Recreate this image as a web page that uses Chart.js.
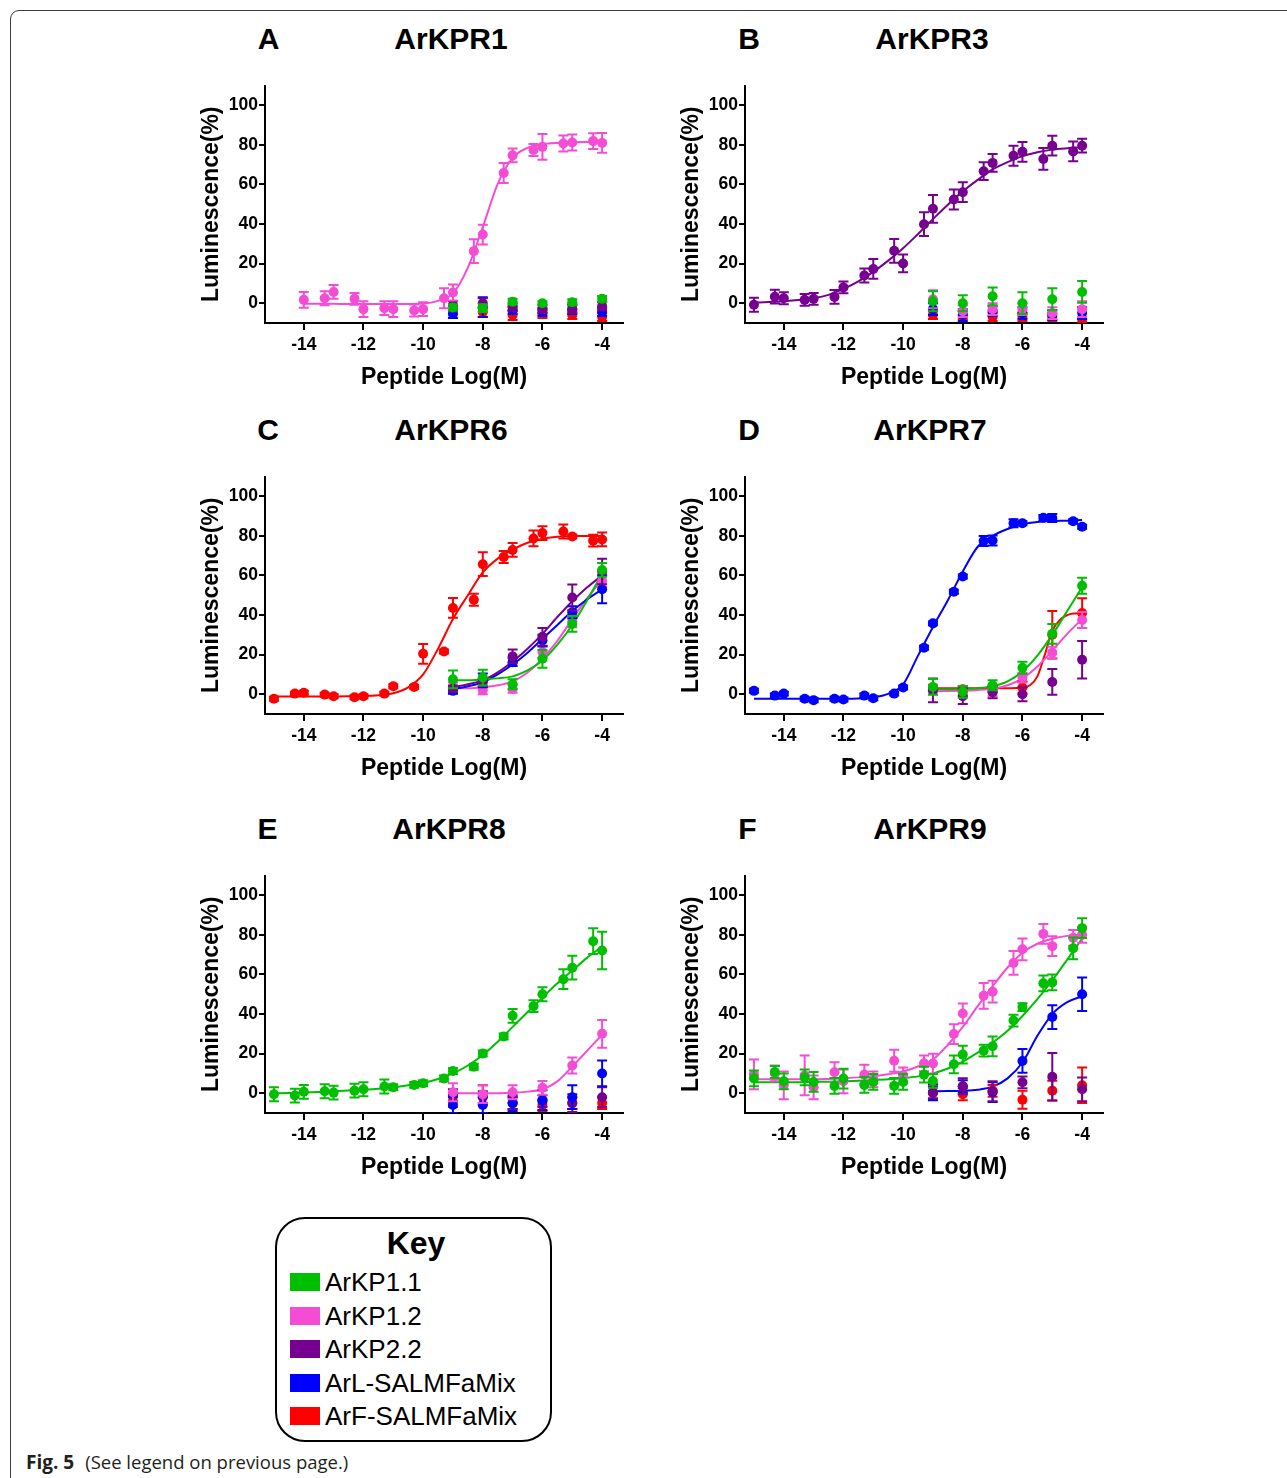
<!DOCTYPE html>
<html>
<head>
<meta charset="utf-8">
<title>Fig. 5</title>
<script src="https://cdn.jsdelivr.net/npm/chart.js@4.4.0/dist/chart.umd.min.js"></script>
<style>
  body { margin: 0; background: #fff; }
  #page { position: relative; width: 1287px; height: 1478px; overflow: hidden; font-family: 'Liberation Sans', Arial, sans-serif; color: #000; }
  .frame { position: absolute; left: 10px; top: 10px; width: 1320px; height: 1475px; border: 1px solid #3c3c3c; border-radius: 9px; }
  .panel { position: absolute; width: 460px; height: 320px; }
  .lbl { position: absolute; font-weight: bold; font-size: 30px; line-height: 1; transform: translate(-50%, -50%); white-space: nowrap; }
  .key { position: absolute; left: 275px; top: 1217px; width: 273px; height: 221px; border: 2.5px solid #000; border-radius: 30px; }
  .keyTitle { position: absolute; left: 416px; top: 1243px; font-weight: bold; font-size: 32px; line-height: 1; transform: translate(-50%, -50%); }
  .keyRow { position: absolute; left: 290px; height: 26px; transform: translateY(-50%); display: flex; align-items: center; }
  .keyRow span.sw { display: inline-block; width: 30px; height: 18px; margin-right: 5px; }
  .keyRow span.tx { font-size: 26px; line-height: 1; }
  .caption { position: absolute; left: 26px; top: 1462px; transform: translateY(-50%); font-family: 'Open Sans', 'Noto Sans', sans-serif; font-size: 18.5px; line-height: 1; color: #231f20; white-space: nowrap; }
  .caption b { font-size: 19px; margin-right: 11px; }
</style>
</head>
<body>
<div id="page">
  <div class="frame"></div>
</div>
<script>
// doses (log M)
const fullDose = [-15, -14.3, -14, -13.3, -13, -12.3, -12, -11.3, -11, -10.3, -10, -9.3, -9, -8.3, -8, -7.3, -7, -6.3, -6, -5.3, -5, -4.3, -4];
const doseA = [-14, -13.3, -13, -12.3, -12, -11.3, -11, -10.3, -10, -9.3, -9, -8.3, -8, -7.3, -7, -6.3, -6, -5.3, -5, -4.3, -4];
const shortDose = [-9, -8, -7, -6, -5, -4];

// x positions of the fitted curves
const fitLong = [-15, -14.5, -14, -13.5, -13, -12.5, -12, -11.5, -11, -10.5, -10, -9.5, -9, -8.5, -8, -7.5, -7, -6.5, -6, -5.5, -5, -4.5, -4];
const fitA = [-14, -13.5, -13, -12.5, -12, -11.5, -11, -10.5, -10, -9.5, -9, -8.5, -8, -7.5, -7, -6.5, -6, -5.5, -5, -4.5, -4];
const fitShort = [-9, -8.5, -8, -7.5, -7, -6.5, -6, -5.5, -5, -4.5, -4];
const fitRedD = [-9, -8, -7, -6, -5.75, -5.5, -5.25, -5, -4.75, -4.5, -4.25, -4];

const xTicks = [-14, -12, -10, -8, -6, -4];
const yTicks = [0, 20, 40, 60, 80, 100];

const keyLabels = ['ArKP1.1', 'ArKP1.2', 'ArKP2.2', 'ArL-SALMFaMix', 'ArF-SALMFaMix'];
const colors = { KP11: '#00BF00', KP12: '#F54CD6', KP22: '#76008F', L: '#0000FF', F: '#FF0000' };

// A - ArKPR1
const a_KP12 = [1.7, 2.5, 5.7, 2.2, -3, -2.5, -3, -3.7, -3, 2.5, 5.4, 26.3, 34.7, 65.8, 74.7, 77.4, 79, 80.7, 81.2, 81.9, 81];
const a_KP12_err = [4, 3.5, 3.5, 3, 4, 3.5, 4, 3, 3.5, 5, 4, 6, 5, 5, 3.5, 3, 6.5, 4, 4, 4, 5];
const a_KP12_fit = [-0.3, -0.3, -0.3, -0.4, -0.4, -0.4, -0.4, -0.4, -0.2, 1.2, 5, 18, 38.5, 60.3, 73.4, 78.5, 80.3, 81, 81.3, 81.4, 81.4];
const a_KP11 = [-2.2, -2.5, 0.8, 0, 0.5, 2.2];
const a_KP11_err = [1.5, 2, 1.5, 1, 1.5, 1.5];
const a_KP22 = [-1, 0, -2, -3, -3, -1.5];
const a_KP22_err = [2, 2.5, 2, 2, 2, 2];
const a_L = [-5.5, -2, -3.5, -4.5, -3, -4.5];
const a_L_err = [2, 5, 2, 2, 2.5, 2];
const a_F = [-3.5, -4.5, -6, -5.5, -6, -7];
const a_F_err = [2, 2.5, 2.5, 2, 2, 2];

// B - ArKPR3
const b_KP22 = [-0.8, 3.3, 2.5, 1.7, 2.2, 3.2, 8, 14, 17.3, 26.5, 20.1, 39.9, 47.7, 52.4, 56.1, 66.7, 70.9, 74.5, 76.5, 72.9, 79.6, 76.7, 79.6];
const b_KP22_err = [3.5, 3.5, 3, 3, 3, 3.5, 3, 3.5, 5, 6, 4.5, 6, 7, 5, 5, 4.5, 4.5, 5, 5, 5.5, 5, 5, 3.5];
const b_KP22_fit = [0.3, 0.6, 1.0, 1.6, 2.5, 4.2, 7.2, 11, 15.8, 21.5, 27.8, 35, 42.5, 49.8, 56.5, 62.3, 67.6, 71.3, 74.3, 76.3, 77.6, 78.3, 78.8];
const b_KP11 = [1, 0, 3.5, 0, 2, 5.7];
const b_KP11_err = [5, 4, 4.5, 5.5, 5.5, 5.5];
const b_KP12 = [2, -4, -3, -3, -5, -3];
const b_KP12_err = [4.5, 3, 3, 3, 3, 4];
const b_L = [-3, -6, -4, -5, -6, -5];
const b_L_err = [3, 3, 2.5, 3, 2.5, 3];
const b_F = [-6, -6, -7, -7, -7, -9.5];
const b_F_err = [2, 2, 2, 2, 2, 1.5];

// C - ArKPR6
const c_F = [-2.3, 0.3, 0.7, -0.2, -1, -1.5, -1, 0.3, 4, 3.7, 20.4, 21.6, 43.6, 47.7, 65.7, 69.3, 72.9, 78.7, 81.4, 82.2, 79.7, 77.6, 78.2];
const c_F_err = [1, 1, 1, 1, 1, 1, 1, 1, 1, 1, 5, 1, 5, 3, 6, 3, 3.5, 4, 3.5, 3.5, 1, 3, 3.5];
const c_F_fit = [-1.2, -1.2, -1.2, -1.2, -1.1, -1.0, -0.9, -0.5, 0.5, 3.5, 10, 23, 38, 50, 61.5, 68.5, 73, 76.5, 78.5, 79.5, 80, 80, 80];
const c_KP22 = [2.8, 6, 19.1, 29, 48.9, 62];
const c_KP22_err = [1.5, 2, 3.5, 4.5, 6.5, 6.5];
const c_KP22_fit = [3.5, 5, 7, 11, 16.5, 23, 30.5, 39, 47, 54, 60];
const c_L = [1.7, 7, 16.2, 27.1, 41.4, 53];
const c_L_err = [1.5, 3.5, 2, 3, 3, 7];
const c_L_fit = [2.5, 4, 6, 10, 15, 21, 28, 35, 42, 48, 53];
const c_KP12 = [4, 2, 2.8, 21.3, 36.8, 57.3];
const c_KP12_err = [2, 2, 2, 3, 3, 3];
const c_KP12_fit = [3, 3, 3.5, 4.5, 6.5, 11, 18, 27, 38, 48.5, 58];
const c_KP11 = [7.5, 8.4, 5, 17.9, 35.5, 62.8];
const c_KP11_err = [4.5, 4, 2.5, 4.5, 4, 3.5];
const c_KP11_fit = [7, 7, 7.5, 8, 9, 12, 17, 25, 35, 47.5, 61];

// D - ArKPR7
const d_L = [1.7, -0.7, 0.3, -2.3, -3, -2.3, -2.7, -0.7, -2, 0.3, 3.4, 23.5, 35.8, 51.8, 59.5, 77.4, 77.7, 86.4, 86.4, 89.1, 89, 87.4, 84.6];
const d_L_err = [1, 1, 1, 1, 1, 1, 1, 1, 1, 1, 1, 1, 1, 1, 1, 2.5, 2.5, 2, 1, 1.5, 2, 1, 1];
const d_L_fit = [-2.3, -2.3, -2.3, -2.3, -2.3, -2.3, -2.3, -2.2, -1.5, 0.2, 5, 19.5, 34, 47.5, 62, 74.5, 80, 83.5, 85.8, 87, 87.5, 87.7, 88];
const d_KP11 = [3.7, 1.2, 4.5, 13.4, 30.5, 54.8];
const d_KP11_err = [4, 3, 2.5, 3, 5, 4];
const d_KP11_fit = [2.5, 2.5, 2.6, 3, 4, 6.5, 11.5, 19.5, 30, 42, 54];
const d_KP12 = [2, 1.5, 1, 8.4, 21, 37.5];
const d_KP12_err = [2, 2, 2, 2.5, 3, 4];
const d_KP12_fit = [1.5, 1.6, 1.8, 2.1, 2.7, 4.5, 8, 14, 22, 30.5, 38];
const d_F = [3, 2.5, 3, 3.4, 30, 41];
const d_F_err = [1.5, 1.5, 1.5, 3, 12, 7.5];
const d_F_fit = [3, 3, 3, 3.3, 4.5, 9, 20, 32, 37.5, 40, 40.8, 41];
const d_KP22 = [2, -1, 1, 0, 6.2, 17.4];
const d_KP22_err = [6, 4, 3, 3.5, 6.5, 9.5];

// E - ArKPR8
const e_KP11 = [-0.5, -1.2, 0.7, 1, 0.3, 1.3, 2, 3.4, 3, 4.2, 5, 7.4, 11.2, 13.4, 20.1, 28.7, 39.1, 44, 50, 57.6, 63.4, 76.8, 72.1];
const e_KP11_err = [3.5, 3.5, 3.5, 3.5, 3.5, 3.5, 3.5, 3.5, 1.5, 1.5, 1.5, 1.5, 1.5, 1.5, 1.5, 1.5, 3.5, 3, 3.5, 5, 6, 6.5, 9.5];
const e_KP11_fit = [0, 0.1, 0.3, 0.6, 1, 1.4, 1.8, 2.3, 3, 4, 5.2, 7.2, 10, 14, 19.3, 26, 33.5, 41, 48.3, 55.5, 62, 68.5, 74];
const e_KP12 = [0.5, -0.5, 0.5, 2.7, 14, 30];
const e_KP12_err = [4.5, 4.5, 3.5, 3.5, 4, 7];
const e_KP12_fit = [0, 0, 0, 0, 0.3, 0.8, 2, 6, 13.5, 21.5, 29.5];
const e_L = [-6, -6, -5, -3.5, -2, 10];
const e_L_err = [4, 4, 4, 5, 6, 6.5];
const e_KP22 = [-1, -2, -5, -4, -5, -2];
const e_KP22_err = [3, 3, 3, 3, 4.5, 5];
const e_F = [-4, -1, -5, -6, -5, -5];
const e_F_err = [3, 5, 3, 3, 3, 3];

// F - ArKPR9
const f_KP12 = [9.5, 10, 4, 9, 3, 10.6, 6, 9.4, 7, 16.4, 9, 15.1, 15, 29.9, 40.3, 49.2, 51.3, 65.8, 72.7, 80.5, 74.3, 78.5, 80];
const f_KP12_err = [7.5, 4, 7, 10, 6, 5, 6, 5, 4, 5.5, 4, 4, 5, 5, 5, 6.5, 5.5, 6, 5.5, 5, 5, 4, 4];
const f_KP12_fit = [7, 7, 7, 7, 7, 7.2, 7.5, 8, 8.6, 9.6, 11, 13.5, 17, 24.5, 33.5, 44, 54, 63.5, 71, 75.5, 78, 79.5, 80.2];
const f_KP11 = [7.5, 10.7, 6, 8, 5.7, 3.7, 7.4, 4.2, 5.7, 3.7, 5.7, 9.4, 6.2, 14.6, 19.5, 21.5, 23.7, 36.7, 43.5, 55.5, 56, 73.2, 83.4];
const f_KP11_err = [4, 3, 4, 4, 5, 4, 5, 4, 4, 4, 4, 4, 3.5, 4.5, 4.5, 3, 5, 3, 2, 4, 4, 5.5, 5];
const f_KP11_fit = [5.5, 5.5, 5.6, 5.6, 5.7, 5.8, 6, 6.3, 6.6, 7, 7.6, 8.5, 10, 12.5, 16, 20.5, 25.5, 31.5, 39, 47.5, 57, 67.5, 78];
const f_L = [0.5, 3.5, 0.5, 16.3, 38.5, 50];
const f_L_err = [4, 3, 5, 6, 6, 8.5];
const f_L_fit = [1, 1.1, 1.3, 1.8, 3.3, 7.5, 15.5, 29, 40, 46, 49];
const f_KP22 = [0.5, 3.5, 1, 5.5, 8.3, 2];
const f_KP22_err = [3, 4, 5, 3, 12, 6];
const f_F = [0, -0.5, 1.2, -3.3, 1.3, 4];
const f_F_err = [3, 3, 3, 4.5, 5, 9];

const panels = [
  { letter: 'A', name: 'ArKPR1', left: 180, top: 74, lx: 268.5, nx: 451, ty: 39,
    series: [
      { c: 'KP12', x: doseA, y: a_KP12, e: a_KP12_err, fx: fitA, fy: a_KP12_fit },
      { c: 'KP11', x: shortDose, y: a_KP11, e: a_KP11_err },
      { c: 'KP22', x: shortDose, y: a_KP22, e: a_KP22_err },
      { c: 'L', x: shortDose, y: a_L, e: a_L_err },
      { c: 'F', x: shortDose, y: a_F, e: a_F_err }
    ] },
  { letter: 'B', name: 'ArKPR3', left: 660, top: 74, lx: 749, nx: 932, ty: 39,
    series: [
      { c: 'KP22', x: fullDose, y: b_KP22, e: b_KP22_err, fx: fitLong, fy: b_KP22_fit },
      { c: 'KP11', x: shortDose, y: b_KP11, e: b_KP11_err },
      { c: 'KP12', x: shortDose, y: b_KP12, e: b_KP12_err },
      { c: 'L', x: shortDose, y: b_L, e: b_L_err },
      { c: 'F', x: shortDose, y: b_F, e: b_F_err }
    ] },
  { letter: 'C', name: 'ArKPR6', left: 180, top: 465, lx: 268, nx: 451, ty: 429.5,
    series: [
      { c: 'F', x: fullDose, y: c_F, e: c_F_err, fx: fitLong, fy: c_F_fit },
      { c: 'KP11', x: shortDose, y: c_KP11, e: c_KP11_err, fx: fitShort, fy: c_KP11_fit },
      { c: 'KP22', x: shortDose, y: c_KP22, e: c_KP22_err, fx: fitShort, fy: c_KP22_fit },
      { c: 'L', x: shortDose, y: c_L, e: c_L_err, fx: fitShort, fy: c_L_fit },
      { c: 'KP12', x: shortDose, y: c_KP12, e: c_KP12_err, fx: fitShort, fy: c_KP12_fit }
    ] },
  { letter: 'D', name: 'ArKPR7', left: 660, top: 465, lx: 749, nx: 930, ty: 429.5,
    series: [
      { c: 'L', x: fullDose, y: d_L, e: d_L_err, fx: fitLong, fy: d_L_fit },
      { c: 'KP11', x: shortDose, y: d_KP11, e: d_KP11_err, fx: fitShort, fy: d_KP11_fit },
      { c: 'KP22', x: shortDose, y: d_KP22, e: d_KP22_err },
      { c: 'KP12', x: shortDose, y: d_KP12, e: d_KP12_err, fx: fitShort, fy: d_KP12_fit },
      { c: 'F', x: shortDose, y: d_F, e: d_F_err, fx: fitRedD, fy: d_F_fit }
    ] },
  { letter: 'E', name: 'ArKPR8', left: 180, top: 864, lx: 267.5, nx: 449, ty: 828.5,
    series: [
      { c: 'KP11', x: fullDose, y: e_KP11, e: e_KP11_err, fx: fitLong, fy: e_KP11_fit },
      { c: 'KP12', x: shortDose, y: e_KP12, e: e_KP12_err, fx: fitShort, fy: e_KP12_fit },
      { c: 'L', x: shortDose, y: e_L, e: e_L_err },
      { c: 'KP22', x: shortDose, y: e_KP22, e: e_KP22_err },
      { c: 'F', x: shortDose, y: e_F, e: e_F_err }
    ] },
  { letter: 'F', name: 'ArKPR9', left: 660, top: 864, lx: 747.5, nx: 930, ty: 828.5,
    series: [
      { c: 'KP11', x: fullDose, y: f_KP11, e: f_KP11_err, fx: fitLong, fy: f_KP11_fit },
      { c: 'KP12', x: fullDose, y: f_KP12, e: f_KP12_err, fx: fitLong, fy: f_KP12_fit },
      { c: 'KP22', x: shortDose, y: f_KP22, e: f_KP22_err },
      { c: 'L', x: shortDose, y: f_L, e: f_L_err, fx: fitShort, fy: f_L_fit },
      { c: 'F', x: shortDose, y: f_F, e: f_F_err }
    ] }
];

// vertical SEM bars, drawn just before each point dataset
const errorBars = {
  id: 'errorBars',
  beforeDatasetDraw(chart, args) {
    const ds = chart.data.datasets[args.index];
    if (!ds.errors) return;
    const ctx = chart.ctx;
    const yScale = chart.scales.y;
    const area = chart.chartArea;
    ctx.save();
    ctx.beginPath();
    ctx.rect(area.left, area.top - 6, area.right - area.left, area.bottom - area.top + 6);
    ctx.clip();
    ctx.strokeStyle = ds.borderColor;
    ctx.lineWidth = 2;
    args.meta.data.forEach(function (pt, i) {
      const v = ds.data[i].y;
      const e = ds.errors[i];
      const top = yScale.getPixelForValue(v + e);
      const bot = yScale.getPixelForValue(v - e);
      ctx.beginPath();
      ctx.moveTo(pt.x, top); ctx.lineTo(pt.x, bot);
      ctx.moveTo(pt.x - 5, top); ctx.lineTo(pt.x + 5, top);
      ctx.moveTo(pt.x - 5, bot); ctx.lineTo(pt.x + 5, bot);
      ctx.stroke();
    });
    ctx.restore();
  }
};

const fontFamily = "'Liberation Sans', Arial, sans-serif";
const tickFont = { family: fontFamily, size: 17.5, weight: 'bold' };
const titleFont = { family: fontFamily, size: 23, weight: 'bold' };

function addLabel(text, x, y) {
  const d = document.createElement('div');
  d.className = 'lbl';
  d.textContent = text;
  d.style.left = x + 'px';
  d.style.top = y + 'px';
  document.getElementById('page').appendChild(d);
}

function makePanel(p) {
  const holder = document.createElement('div');
  holder.className = 'panel';
  holder.style.left = p.left + 'px';
  holder.style.top = p.top + 'px';
  const canvas = document.createElement('canvas');
  canvas.width = 460;
  canvas.height = 320;
  holder.appendChild(canvas);
  document.getElementById('page').appendChild(holder);

  addLabel(p.letter, p.lx, p.ty);
  addLabel(p.name, p.nx, p.ty);

  const datasets = [];
  p.series.forEach(function (s) {
    datasets.push({
      data: s.x.map(function (x, i) { return { x: x, y: s.y[i] }; }),
      errors: s.e,
      showLine: false,
      pointRadius: 5,
      pointHoverRadius: 5,
      pointBorderWidth: 0,
      pointBackgroundColor: colors[s.c],
      borderColor: colors[s.c]
    });
  });
  p.series.forEach(function (s) {
    if (!s.fx) return;
    datasets.push({
      data: s.fx.map(function (x, i) { return { x: x, y: s.fy[i] }; }),
      showLine: true,
      pointRadius: 0,
      borderWidth: 2,
      borderColor: colors[s.c],
      cubicInterpolationMode: 'monotone',
      fill: false
    });
  });

  new Chart(canvas, {
    type: 'line',
    data: { datasets: datasets },
    plugins: [errorBars],
    options: {
      responsive: false,
      animation: false,
      layout: { padding: { left: 0, top: 10, right: 17, bottom: 0 } },
      plugins: { legend: { display: false }, tooltip: { enabled: false } },
      scales: {
        x: {
          type: 'linear',
          min: -15.3,
          max: -3.3,
          afterBuildTicks: function (s) { s.ticks = xTicks.map(function (v) { return { value: v }; }); },
          afterFit: function (s) { s.height = 71; },
          grid: { display: true, drawOnChartArea: false, drawTicks: true, tickLength: 7, color: '#000', lineWidth: 2 },
          border: { display: true, color: '#000', width: 2 },
          ticks: { color: '#000', font: tickFont, padding: 5, maxRotation: 0, autoSkip: false,
                   callback: function (v) { return String(v); } },
          title: { display: true, text: 'Peptide Log(M)', color: '#000', font: titleFont, padding: { top: 0, bottom: 3 } }
        },
        y: {
          min: -10,
          max: 110,
          afterBuildTicks: function (s) { s.ticks = yTicks.map(function (v) { return { value: v }; }); },
          afterFit: function (s) { s.width = 85; },
          grid: { display: true, drawOnChartArea: false, drawTicks: true, tickLength: 6, color: '#000', lineWidth: 2 },
          border: { display: true, color: '#000', width: 2 },
          ticks: { color: '#000', font: tickFont, padding: 1, callback: function (v) { return String(v); } },
          title: { display: true, text: 'Luminescence(%)', color: '#000', font: titleFont, padding: { top: 18, bottom: 0 } }
        }
      }
    }
  });
}

panels.forEach(makePanel);

// key box
const page = document.getElementById('page');
const key = document.createElement('div');
key.className = 'key';
page.appendChild(key);
const kt = document.createElement('div');
kt.className = 'keyTitle';
kt.textContent = 'Key';
page.appendChild(kt);
const keyColors = [colors.KP11, colors.KP12, colors.KP22, colors.L, colors.F];
keyLabels.forEach(function (label, i) {
  const row = document.createElement('div');
  row.className = 'keyRow';
  row.style.top = (1282 + i * 33.5) + 'px';
  row.innerHTML = '<span class="sw" style="background:' + keyColors[i] + '"></span><span class="tx">' + label + '</span>';
  page.appendChild(row);
});

const cap = document.createElement('div');
cap.className = 'caption';
cap.innerHTML = '<b>Fig. 5</b>(See legend on previous page.)';
page.appendChild(cap);
</script>
</body>
</html>
